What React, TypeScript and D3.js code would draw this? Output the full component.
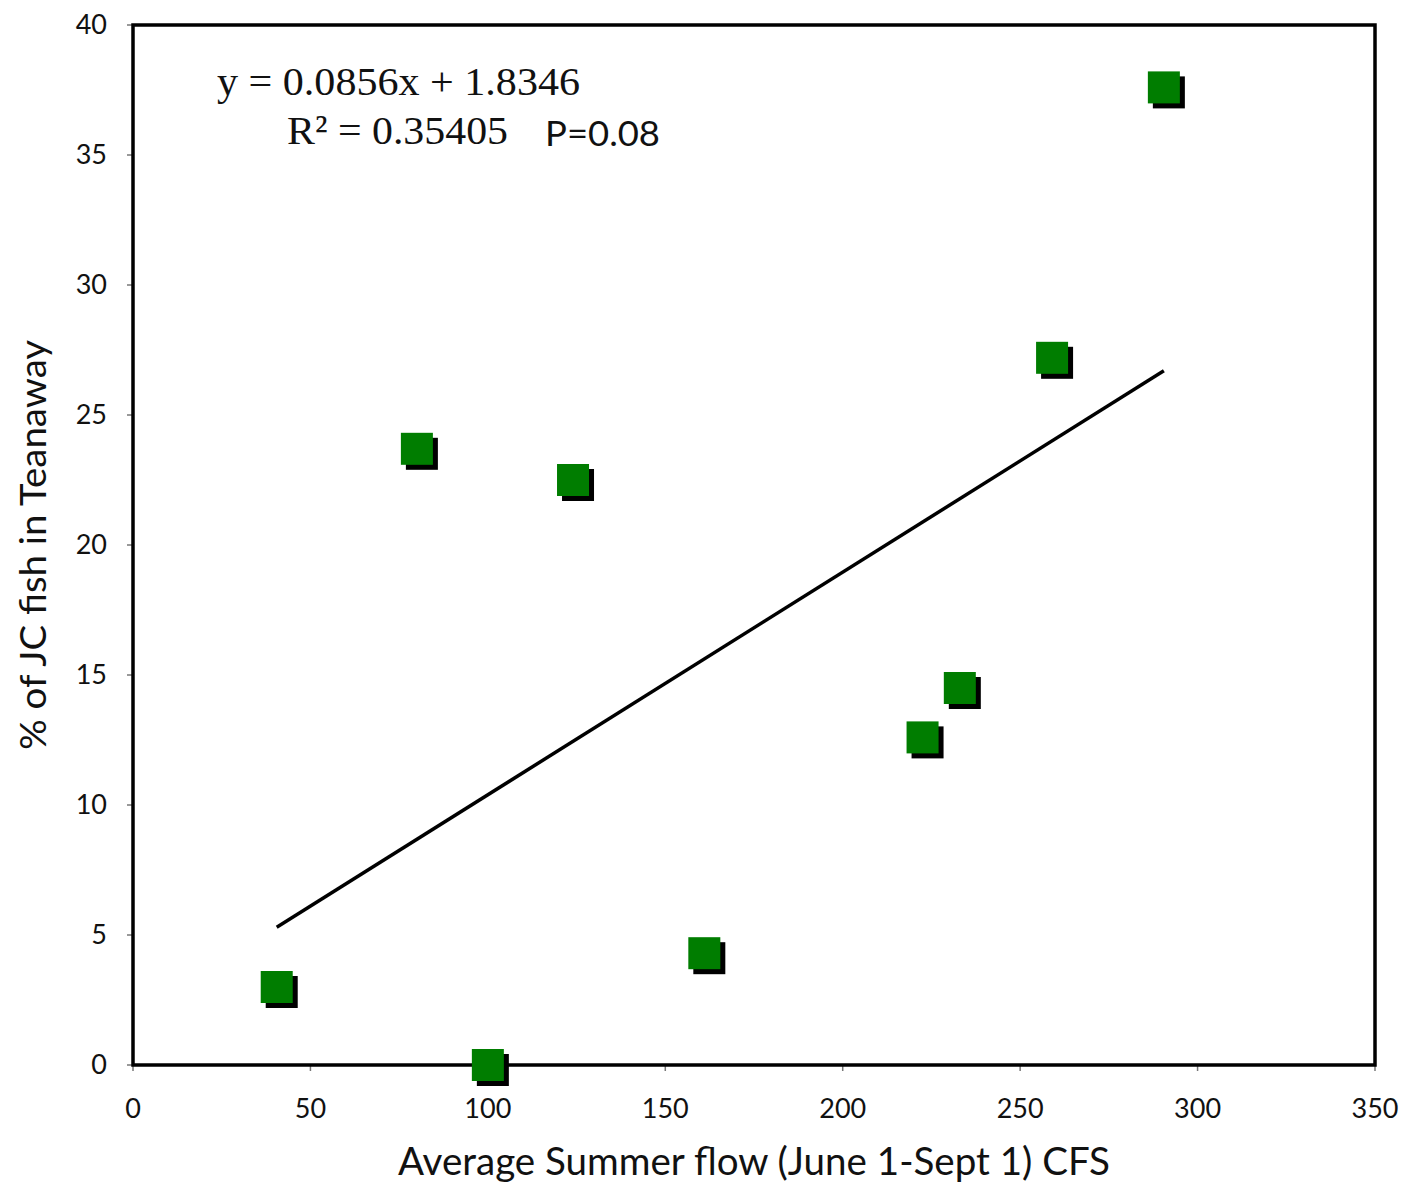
import React from "react";
import * as d3 from "d3";

const flowCFS = [40.5, 100, 80, 124, 161, 222.5, 233, 259, 290.5];
const pctJC = [3.0, 0.0, 23.7, 22.5, 4.3, 12.6, 14.5, 27.2, 37.6];
const xTicks = [0, 50, 100, 150, 200, 250, 300, 350];
const yTicks = [0, 5, 10, 15, 20, 25, 30, 35, 40];
const slope = 0.0856;
const intercept = 1.8346;
const eqLine1 = "y = 0.0856x + 1.8346";
const eqLine2 = "R² = 0.35405";
const pText = "P=0.08";
const xTitle = "Average Summer flow (June 1-Sept 1) CFS";
const yTitle = "% of JC fish in Teanaway";

const W = 1404;
const H = 1183;
const L = 133, R = 1375, T = 25, B = 1065;

export default function App() {
  const x = d3.scaleLinear().domain([0, 350]).range([L, R]);
  const y = d3.scaleLinear().domain([0, 40]).range([B, T]);
  const [xmin, xmax] = d3.extent(flowCFS) as [number, number];
  const fit = d3.line<number>().x((d) => x(d)).y((d) => y(slope * d + intercept));
  const sans = "Lato, 'Open Sans', sans-serif";
  const serif = "'Liberation Serif', 'DejaVu Serif', serif";
  const size = 32;
  const off = 5;
  return (
    <svg width={W} height={H} style={{ position: "absolute", left: 0, top: 0, background: "#fff" }}>
      <rect x={0} y={0} width={W} height={H} fill="#fff" />
      {yTicks.map((t) => (
        <g key={"y" + t}>
          <line x1={L - 6} x2={L} y1={y(t)} y2={y(t)} stroke="#777" strokeWidth={1.5} />
          <text x={107} y={y(t) + 9} textAnchor="end" fontFamily={sans} fontSize={27} fill="#111">
            {t}
          </text>
        </g>
      ))}
      {xTicks.map((t) => (
        <g key={"x" + t}>
          <line x1={x(t)} x2={x(t)} y1={B} y2={B + 6} stroke="#777" strokeWidth={1.5} />
          <text x={x(t)} y={1118} textAnchor="middle" fontFamily={sans} fontSize={27} fill="#111">
            {t}
          </text>
        </g>
      ))}
      <rect x={L} y={T} width={R - L} height={B - T} fill="none" stroke="#000" strokeWidth={3.5} />
      <path d={fit([xmin, xmax]) || ""} stroke="#000" strokeWidth={3.5} fill="none" />
      {flowCFS.map((v, i) => (
        <g key={"p" + i}>
          <rect x={x(v) - size / 2 + off} y={y(pctJC[i]) - size / 2 + off} width={size} height={size} fill="#000" />
          <rect x={x(v) - size / 2} y={y(pctJC[i]) - size / 2} width={size} height={size} fill="#007d00" />
        </g>
      ))}
      <text x={217} y={95} fontFamily={serif} fontSize={41} fill="#111" textLength={363} lengthAdjust="spacingAndGlyphs">
        {eqLine1}
      </text>
      <text x={287} y={144} fontFamily={serif} fontSize={41} fill="#111" textLength={221} lengthAdjust="spacingAndGlyphs">
        {eqLine2}
      </text>
      <text x={545} y={146} fontFamily={sans} fontSize={35} fill="#111" textLength={115} lengthAdjust="spacingAndGlyphs">
        {pText}
      </text>
      <text x={754} y={1175} textAnchor="middle" fontFamily={sans} fontSize={38} fill="#111" textLength={712} lengthAdjust="spacingAndGlyphs">
        {xTitle}
      </text>
      <text
        transform={`translate(46,545) rotate(-90)`}
        textAnchor="middle"
        fontFamily={sans}
        fontSize={36}
        fill="#111"
        textLength={410}
        lengthAdjust="spacingAndGlyphs"
      >
        {yTitle}
      </text>
    </svg>
  );
}
